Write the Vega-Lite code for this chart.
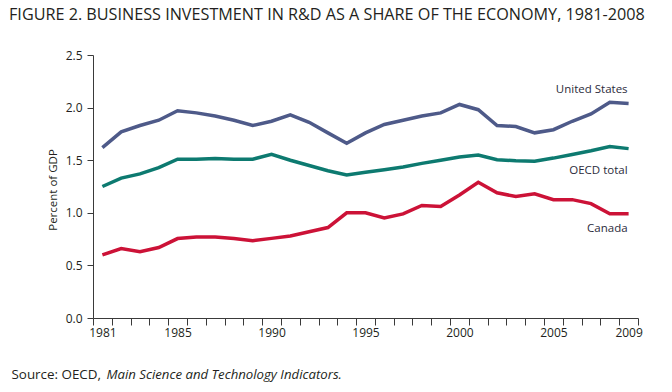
{
  "$schema": "https://vega.github.io/schema/vega-lite/v6.json",
  "width": 545,
  "height": 263,
  "autosize": {"type": "none"},
  "padding": {"left": 93, "top": 55, "right": 34, "bottom": 74},
  "background": "white",
  "config": {"font": "Open Sans", "view": {"stroke": null}},
  "title": {
    "text": "FIGURE 2. BUSINESS INVESTMENT IN R&D AS A SHARE OF THE ECONOMY, 1981-2008",
    "anchor": "start",
    "frame": "group",
    "fontSize": 16.2,
    "fontWeight": "normal",
    "color": "#231f20",
    "baseline": "alphabetic",
    "dx": -84,
    "offset": 13
  },
  "data": {
    "values": [
      {"year": 1981, "series": "United States", "value": 1.62},
      {"year": 1982, "series": "United States", "value": 1.77},
      {"year": 1983, "series": "United States", "value": 1.83},
      {"year": 1984, "series": "United States", "value": 1.88},
      {"year": 1985, "series": "United States", "value": 1.97},
      {"year": 1986, "series": "United States", "value": 1.95},
      {"year": 1987, "series": "United States", "value": 1.92},
      {"year": 1988, "series": "United States", "value": 1.88},
      {"year": 1989, "series": "United States", "value": 1.83},
      {"year": 1990, "series": "United States", "value": 1.87},
      {"year": 1991, "series": "United States", "value": 1.93},
      {"year": 1992, "series": "United States", "value": 1.86},
      {"year": 1993, "series": "United States", "value": 1.76},
      {"year": 1994, "series": "United States", "value": 1.66},
      {"year": 1995, "series": "United States", "value": 1.76},
      {"year": 1996, "series": "United States", "value": 1.84},
      {"year": 1997, "series": "United States", "value": 1.88},
      {"year": 1998, "series": "United States", "value": 1.92},
      {"year": 1999, "series": "United States", "value": 1.95},
      {"year": 2000, "series": "United States", "value": 2.03},
      {"year": 2001, "series": "United States", "value": 1.98},
      {"year": 2002, "series": "United States", "value": 1.83},
      {"year": 2003, "series": "United States", "value": 1.82},
      {"year": 2004, "series": "United States", "value": 1.76},
      {"year": 2005, "series": "United States", "value": 1.79},
      {"year": 2006, "series": "United States", "value": 1.87},
      {"year": 2007, "series": "United States", "value": 1.94},
      {"year": 2008, "series": "United States", "value": 2.05},
      {"year": 2009, "series": "United States", "value": 2.04},
      {"year": 1981, "series": "OECD total", "value": 1.25},
      {"year": 1982, "series": "OECD total", "value": 1.33},
      {"year": 1983, "series": "OECD total", "value": 1.37},
      {"year": 1984, "series": "OECD total", "value": 1.43},
      {"year": 1985, "series": "OECD total", "value": 1.51},
      {"year": 1986, "series": "OECD total", "value": 1.51},
      {"year": 1987, "series": "OECD total", "value": 1.515},
      {"year": 1988, "series": "OECD total", "value": 1.51},
      {"year": 1989, "series": "OECD total", "value": 1.51},
      {"year": 1990, "series": "OECD total", "value": 1.555},
      {"year": 1991, "series": "OECD total", "value": 1.5},
      {"year": 1992, "series": "OECD total", "value": 1.45},
      {"year": 1993, "series": "OECD total", "value": 1.4},
      {"year": 1994, "series": "OECD total", "value": 1.36},
      {"year": 1995, "series": "OECD total", "value": 1.385},
      {"year": 1996, "series": "OECD total", "value": 1.41},
      {"year": 1997, "series": "OECD total", "value": 1.435},
      {"year": 1998, "series": "OECD total", "value": 1.47},
      {"year": 1999, "series": "OECD total", "value": 1.5},
      {"year": 2000, "series": "OECD total", "value": 1.53},
      {"year": 2001, "series": "OECD total", "value": 1.55},
      {"year": 2002, "series": "OECD total", "value": 1.505},
      {"year": 2003, "series": "OECD total", "value": 1.495},
      {"year": 2004, "series": "OECD total", "value": 1.49},
      {"year": 2005, "series": "OECD total", "value": 1.52},
      {"year": 2006, "series": "OECD total", "value": 1.555},
      {"year": 2007, "series": "OECD total", "value": 1.59},
      {"year": 2008, "series": "OECD total", "value": 1.63},
      {"year": 2009, "series": "OECD total", "value": 1.61},
      {"year": 1981, "series": "Canada", "value": 0.6},
      {"year": 1982, "series": "Canada", "value": 0.66},
      {"year": 1983, "series": "Canada", "value": 0.63},
      {"year": 1984, "series": "Canada", "value": 0.67},
      {"year": 1985, "series": "Canada", "value": 0.755},
      {"year": 1986, "series": "Canada", "value": 0.77},
      {"year": 1987, "series": "Canada", "value": 0.77},
      {"year": 1988, "series": "Canada", "value": 0.755},
      {"year": 1989, "series": "Canada", "value": 0.735},
      {"year": 1990, "series": "Canada", "value": 0.757},
      {"year": 1991, "series": "Canada", "value": 0.78},
      {"year": 1992, "series": "Canada", "value": 0.82},
      {"year": 1993, "series": "Canada", "value": 0.86},
      {"year": 1994, "series": "Canada", "value": 1.0},
      {"year": 1995, "series": "Canada", "value": 1.0},
      {"year": 1996, "series": "Canada", "value": 0.95},
      {"year": 1997, "series": "Canada", "value": 0.99},
      {"year": 1998, "series": "Canada", "value": 1.07},
      {"year": 1999, "series": "Canada", "value": 1.06},
      {"year": 2000, "series": "Canada", "value": 1.17},
      {"year": 2001, "series": "Canada", "value": 1.29},
      {"year": 2002, "series": "Canada", "value": 1.19},
      {"year": 2003, "series": "Canada", "value": 1.155},
      {"year": 2004, "series": "Canada", "value": 1.18},
      {"year": 2005, "series": "Canada", "value": 1.125},
      {"year": 2006, "series": "Canada", "value": 1.125},
      {"year": 2007, "series": "Canada", "value": 1.087},
      {"year": 2008, "series": "Canada", "value": 0.99},
      {"year": 2009, "series": "Canada", "value": 0.99}
    ]
  },
  "resolve": {"axis": {"y": "independent"}},
  "layer": [
    {
      "mark": {"type": "line", "strokeWidth": 3.5},
      "encoding": {
        "x": {
          "field": "year",
          "type": "ordinal",
          "scale": {"type": "band", "paddingInner": 0, "paddingOuter": 0},
          "axis": {
            "title": "Source: OECD,",
            "titleX": -82,
            "titleY": 60,
            "titleAlign": "left",
            "titleBaseline": "alphabetic",
            "titleFontSize": 13.4,
            "titleFontWeight": "normal",
            "titleColor": "#231f20",
            "labelAngle": 0,
            "labelExpr": "indexof(['1981','1985','1990','1995','2000','2005','2009'], datum.label) >= 0 ? datum.label : ''",
            "tickBand": "extent",
            "tickSize": 7,
            "tickColor": "#3a3a3a",
            "domainColor": "#3a3a3a",
            "labelFontSize": 12,
            "labelColor": "#231f20",
            "labelPadding": 2
          }
        },
        "y": {
          "field": "value",
          "type": "quantitative",
          "scale": {"domain": [0, 2.5], "nice": false},
          "axis": {
            "title": "Percent of GDP",
            "orient": "left",
            "values": [0, 0.5, 1, 1.5, 2, 2.5],
            "format": ".1f",
            "grid": false,
            "tickSize": 6,
            "tickColor": "#3a3a3a",
            "domainColor": "#3a3a3a",
            "labelPadding": 5,
            "labelFontSize": 12,
            "labelColor": "#231f20",
            "titleFontSize": 11.5,
            "titleFontWeight": "normal",
            "titleColor": "#231f20",
            "titleX": -37,
            "titleY": 134.5,
            "titleAngle": -90,
            "titleAlign": "center",
            "titleBaseline": "alphabetic"
          }
        },
        "color": {
          "field": "series",
          "type": "nominal",
          "scale": {"domain": ["United States", "OECD total", "Canada"], "range": ["#4e5a89", "#0d7a70", "#cc1237"]},
          "legend": null
        }
      }
    },
    {
      "transform": [{"filter": "datum.year == 2009 && datum.series == 'United States'"}],
      "mark": {"type": "text", "align": "right", "baseline": "alphabetic", "dx": -1, "dy": -10, "fontSize": 11.5, "color": "#2b2b3b"},
      "encoding": {
        "x": {"field": "year", "type": "ordinal"},
        "y": {
          "field": "value",
          "type": "quantitative",
          "axis": {
            "orient": "right",
            "domain": false,
            "ticks": false,
            "labels": false,
            "grid": false,
            "title": "Main Science and Technology Indicators.",
            "titleAngle": 0,
            "titleX": -532,
            "titleY": 323.3,
            "titleAlign": "left",
            "titleBaseline": "alphabetic",
            "titleFontStyle": "italic",
            "titleFontSize": 13.2,
            "titleFontWeight": "normal",
            "titleColor": "#231f20"
          }
        },
        "text": {"field": "series"}
      }
    },
    {
      "transform": [{"filter": "datum.year == 2009 && datum.series == 'OECD total'"}],
      "mark": {"type": "text", "align": "right", "baseline": "alphabetic", "dx": -1, "dy": 25, "fontSize": 11.5, "color": "#2b2b3b"},
      "encoding": {
        "x": {"field": "year", "type": "ordinal"},
        "y": {"field": "value", "type": "quantitative", "axis": null},
        "text": {"field": "series"}
      }
    },
    {
      "transform": [{"filter": "datum.year == 2009 && datum.series == 'Canada'"}],
      "mark": {"type": "text", "align": "right", "baseline": "alphabetic", "dx": -1, "dy": 18.5, "fontSize": 11.5, "color": "#2b2b3b"},
      "encoding": {
        "x": {"field": "year", "type": "ordinal"},
        "y": {"field": "value", "type": "quantitative", "axis": null},
        "text": {"field": "series"}
      }
    }
  ]
}
